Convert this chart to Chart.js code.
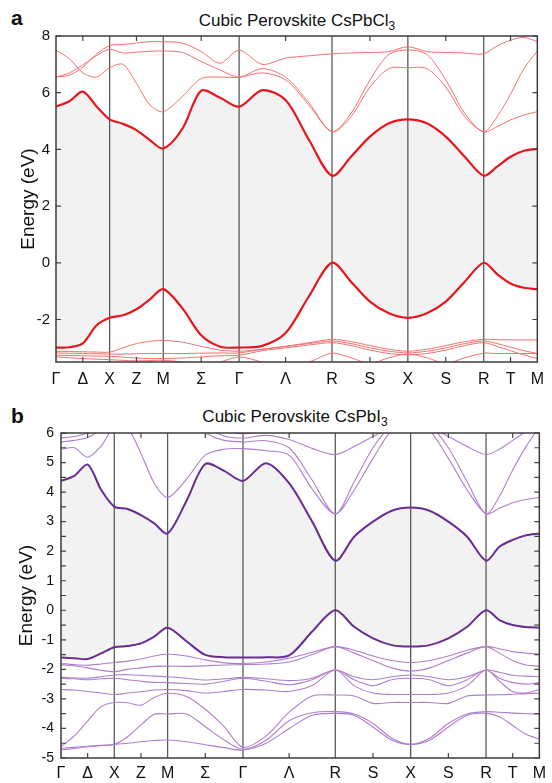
<!DOCTYPE html>
<html>
<head>
<meta charset="utf-8">
<script src="https://cdn.jsdelivr.net/npm/chart.js@4.4.0/dist/chart.umd.min.js"></script>
<style>
  body { margin: 0; background: #fff; font-family: 'Liberation Sans', Arial, sans-serif; }
  #wrap { position: relative; width: 552px; height: 783px; overflow: hidden; }
  canvas { position: absolute; left: 0; }
  .lbl { position: absolute; font-weight: bold; font-size: 21px; line-height: 24px; color: #111; }
  .ttl { position: absolute; font-size: 17px; line-height: 20px; color: #111; transform: translateX(-50%); white-space: nowrap; }
  .ttl sub { font-size: 12px; vertical-align: -4px; line-height: 0; }
</style>
</head>
<body>
<div id="wrap">
  <div class="lbl" style="left:11px; top:6px;">a</div>
  <div class="ttl" style="left:297px; top:11px;">Cubic Perovskite CsPbCl<sub>3</sub></div>
  <canvas id="chartA" width="552" height="390" style="top:0;"></canvas>
  <div class="lbl" style="left:11px; top:404px;">b</div>
  <div class="ttl" style="left:295px; top:407px;">Cubic Perovskite CsPbI<sub>3</sub></div>
  <canvas id="chartB" width="552" height="393" style="top:390px;"></canvas>
</div>
<script>
// k-path sample positions (Γ-X-M-Γ-R-X-R-M), units of 2π/a
const kPath = [0, 0.125, 0.25, 0.375, 0.5, 0.625, 0.75, 0.875, 1.0, 1.1768, 1.3536, 1.5303, 1.7071,
  1.9236, 2.1401, 2.3566, 2.5731, 2.7499, 2.9267, 3.1034, 3.2802, 3.457, 3.6338, 3.8105, 3.9873,
  4.1123, 4.2373, 4.3623, 4.4873];

// high-symmetry points and midpoints on the x axis
const symPos = [0, 0.25, 0.5, 0.75, 1.0, 1.3536, 1.7071, 2.1401, 2.5731, 2.9267, 3.2802, 3.6338, 3.9873, 4.2373, 4.4873];
const symNames = ['Γ', 'Δ', 'X', 'Z', 'M', 'Σ', 'Γ', 'Λ', 'R', 'S', 'X', 'S', 'R', 'T', 'M'];

// panel a: CsPbCl3 (eV)
const cbA = [5.51, 5.70, 6.04, 5.53, 5.06, 4.90, 4.68, 4.33, 4.03, 4.72, 6.07, 5.82, 5.51, 6.09, 5.74, 4.35, 3.07, 3.74, 4.45, 4.92, 5.06, 4.92, 4.45, 3.74, 3.07, 3.39, 3.74, 3.95, 4.02];
const vbA = [-2.99, -2.98, -2.84, -2.22, -1.94, -1.85, -1.64, -1.29, -0.93, -1.60, -2.56, -2.96, -2.99, -2.93, -2.48, -1.19, 0.00, -0.67, -1.37, -1.78, -1.94, -1.78, -1.37, -0.67, 0.00, -0.40, -0.73, -0.88, -0.93];
const c2A = [6.55, 6.70, 6.98, 7.30, 7.53, 7.40, 7.43, 7.46, 7.47, 7.42, 7.10, 6.80, 6.55, 6.85, 6.55, 5.65, 4.62, 5.27, 6.45, 7.35, 7.51, 7.35, 6.45, 5.27, 4.62, 5.15, 5.95, 6.85, 7.47];
const c3A = [6.55, 6.62, 6.90, 7.35, 7.66, 7.70, 7.75, 7.80, 7.80, 7.75, 7.45, 7.04, 7.50, 7.00, 7.22, 7.30, 7.37, 7.40, 7.42, 7.45, 7.62, 7.45, 7.42, 7.40, 7.37, 7.65, 7.85, 7.95, 7.80];
const c4A = [7.50, 7.20, 6.70, 6.55, 6.88, 7.00, 6.33, 5.57, 5.33, 5.86, 6.50, 6.55, 6.54, 6.70, 6.45, 5.57, 4.62, 5.15, 6.20, 6.85, 6.88, 6.85, 6.20, 5.15, 4.62, 4.80, 5.04, 5.21, 5.33];
const v2A = [-3.12, -3.13, -3.14, -3.15, -3.15, -3.00, -2.85, -2.77, -2.74, -2.80, -2.95, -3.08, -3.12, -3.05, -2.95, -2.82, -2.70, -2.78, -2.92, -3.05, -3.12, -3.05, -2.92, -2.78, -2.70, -2.71, -2.72, -2.72, -2.72];
const v3A = [-3.18, -3.19, -3.20, -3.21, -3.22, -3.22, -3.21, -3.20, -3.20, -3.20, -3.19, -3.18, -3.18, -3.05, -2.95, -2.85, -2.76, -2.85, -3.00, -3.12, -3.18, -3.12, -3.00, -2.85, -2.76, -2.85, -2.98, -3.10, -3.20];
const v4A = [-3.26, -3.27, -3.28, -3.29, -3.30, -3.33, -3.36, -3.38, -3.38, -3.36, -3.32, -3.28, -3.26, -3.10, -3.00, -2.90, -2.82, -2.92, -3.08, -3.20, -3.25, -3.20, -3.08, -2.92, -2.82, -2.95, -3.10, -3.25, -3.38];
const v5A = [-3.32, -3.35, -3.38, -3.40, -3.42, -3.44, -3.46, -3.45, -3.44, -3.50, -3.60, -3.50, -3.32, -3.50, -3.65, -3.50, -3.19, -3.35, -3.55, -3.35, -3.22, -3.35, -3.55, -3.35, -3.19, -3.20, -3.20, -3.20, -3.20];

// panel b: CsPbI3 (eV)
const cbB = [4.38, 4.55, 4.93, 4.09, 3.51, 3.43, 3.22, 2.94, 2.60, 3.70, 4.95, 4.72, 4.38, 4.98, 4.30, 3.00, 1.68, 2.49, 3.00, 3.37, 3.48, 3.37, 3.00, 2.49, 1.68, 2.15, 2.38, 2.54, 2.60];
const vbB = [-1.60, -1.62, -1.65, -1.46, -1.25, -1.21, -1.12, -0.89, -0.59, -1.05, -1.51, -1.59, -1.60, -1.59, -1.53, -0.72, 0.00, -0.56, -0.95, -1.18, -1.23, -1.18, -0.95, -0.56, 0.00, -0.33, -0.50, -0.57, -0.59];
const u1B = [5.45, 5.50, 5.18, 5.55, 6.20, 6.15, 5.31, 4.30, 3.82, 4.43, 5.25, 5.45, 5.47, 5.40, 5.25, 4.10, 3.26, 4.07, 5.14, 6.10, 6.50, 6.10, 5.14, 4.07, 3.26, 3.45, 3.64, 3.75, 3.82];
const u2B = [5.70, 5.75, 5.85, 6.10, 6.40, 6.50, 6.60, 6.60, 6.70, 6.50, 6.00, 5.75, 5.70, 5.74, 5.50, 4.40, 3.26, 4.35, 5.50, 6.30, 6.80, 6.30, 5.50, 4.35, 3.26, 3.85, 4.75, 5.54, 6.20];
const u3B = [5.83, 5.88, 6.00, 6.20, 6.50, 6.60, 6.60, 6.60, 6.60, 6.60, 6.20, 5.90, 5.83, 5.92, 5.78, 5.48, 5.27, 5.54, 5.88, 6.20, 6.50, 6.20, 5.88, 5.54, 5.27, 5.45, 5.75, 6.05, 6.30];
const u4B = [5.97, 6.05, 6.20, 6.40, 6.60, 6.60, 6.60, 6.60, 6.60, 6.60, 6.40, 6.10, 5.97, 6.10, 6.30, 6.50, 6.60, 6.60, 6.60, 6.60, 6.60, 6.60, 6.60, 6.60, 6.60, 6.60, 6.60, 6.60, 6.60];
const w1B = [-1.80, -1.84, -1.86, -1.82, -1.77, -1.72, -1.65, -1.55, -1.48, -1.55, -1.68, -1.78, -1.80, -1.75, -1.62, -1.42, -1.23, -1.35, -1.55, -1.70, -1.77, -1.70, -1.55, -1.35, -1.23, -1.30, -1.40, -1.45, -1.48];
const w2B = [-1.84, -1.88, -1.95, -2.03, -2.08, -2.00, -1.95, -1.90, -1.89, -1.90, -1.88, -1.85, -1.84, -1.82, -1.75, -1.50, -1.23, -1.45, -1.70, -1.95, -2.06, -1.95, -1.70, -1.45, -1.23, -1.45, -1.70, -1.85, -1.89];
const w3B = [-2.27, -2.29, -2.30, -2.25, -2.19, -2.18, -2.20, -2.23, -2.25, -2.30, -2.36, -2.32, -2.27, -2.32, -2.38, -2.30, -2.02, -2.25, -2.35, -2.25, -2.19, -2.25, -2.35, -2.25, -2.02, -2.10, -2.20, -2.23, -2.25];
const w4B = [-2.30, -2.32, -2.35, -2.32, -2.30, -2.35, -2.40, -2.44, -2.45, -2.48, -2.50, -2.40, -2.30, -2.40, -2.52, -2.35, -2.02, -2.35, -2.55, -2.35, -2.30, -2.35, -2.55, -2.35, -2.02, -2.30, -2.45, -2.50, -2.45];
const w5B = [-2.68, -2.70, -2.75, -2.80, -2.85, -2.80, -2.76, -2.70, -2.68, -2.72, -2.80, -2.75, -2.68, -2.70, -2.75, -2.55, -2.02, -2.55, -2.80, -2.85, -2.85, -2.85, -2.80, -2.55, -2.02, -2.40, -2.75, -2.80, -2.68];
const w6B = [-4.62, -4.25, -3.75, -3.26, -3.12, -3.13, -3.21, -2.95, -2.81, -2.92, -3.35, -3.94, -4.64, -4.25, -3.45, -2.90, -2.87, -2.90, -3.15, -3.12, -3.12, -3.12, -3.15, -2.90, -2.87, -2.86, -2.84, -2.82, -2.81];
const w7B = [-4.67, -4.64, -4.60, -4.57, -4.54, -4.28, -3.88, -3.52, -3.51, -3.51, -3.94, -4.39, -4.71, -4.40, -3.74, -3.47, -3.43, -3.51, -3.83, -4.33, -4.54, -4.33, -3.83, -3.51, -3.43, -3.45, -3.48, -3.50, -3.51];
const w8B = [-4.73, -4.68, -4.62, -4.58, -4.54, -4.50, -4.45, -4.41, -4.39, -4.45, -4.55, -4.65, -4.73, -4.50, -4.00, -3.55, -3.49, -3.55, -3.95, -4.40, -4.54, -4.40, -3.95, -3.55, -3.49, -3.60, -3.90, -4.20, -4.36];

// y-axis tick values
const yTicksA = [-2, 0, 2, 4, 6, 8];
const yTicksB = [-5, -4, -3, -2, -1, 0, 1, 2, 3, 4, 5, 6];
const yMinorB = [-4.5, -3.5, -2.5, -1.5, -0.5, 0.5, 1.5, 2.5, 3.5, 4.5, 5.5];

const FONT = "'Liberation Sans', Arial, sans-serif";

function pts(band) {
  return band.map((e, i) => ({ x: kPath[i], y: e }));
}

function bandSet(band, color, width, extra) {
  return Object.assign({
    data: pts(band),
    borderColor: color,
    borderWidth: width,
    pointRadius: 0,
    fill: false,
    tension: 0.3
  }, extra || {});
}

// frame, high-symmetry lines and inward ticks
function framePlugin(major, minor) {
  return {
    id: 'bandFrame',
    beforeDatasetsDraw(chart) {
      const { ctx, chartArea: a, scales: { x } } = chart;
      ctx.save();
      ctx.strokeStyle = '#5a5a5a';
      ctx.lineWidth = 1.3;
      symPos.forEach((k, i) => {
        if (i % 2 === 1 || i === 0 || i === symPos.length - 1) return;
        const px = x.getPixelForValue(k);
        ctx.beginPath();
        ctx.moveTo(px, a.top);
        ctx.lineTo(px, a.bottom);
        ctx.stroke();
      });
      ctx.restore();
    },
    afterDatasetsDraw(chart) {
      const { ctx, chartArea: a, scales: { x, y } } = chart;
      ctx.save();
      ctx.strokeStyle = '#444';
      ctx.lineWidth = 1.2;
      symPos.forEach((k, i) => {
        if (i % 2 === 0) return;
        const px = x.getPixelForValue(k);
        ctx.beginPath();
        ctx.moveTo(px, a.bottom); ctx.lineTo(px, a.bottom - 5);
        ctx.moveTo(px, a.top); ctx.lineTo(px, a.top + 5);
        ctx.stroke();
      });
      major.concat(minor).forEach(v => {
        const py = y.getPixelForValue(v);
        ctx.beginPath();
        ctx.moveTo(a.left, py); ctx.lineTo(a.left + 5, py);
        ctx.moveTo(a.right, py); ctx.lineTo(a.right - 5, py);
        ctx.stroke();
      });
      ctx.strokeStyle = '#3c3c3c';
      ctx.lineWidth = 1.5;
      ctx.strokeRect(a.left, a.top, a.right - a.left, a.bottom - a.top);
      ctx.restore();
    }
  };
}

function makeChart(id, datasets, cfg) {
  return new Chart(document.getElementById(id), {
    type: 'line',
    data: { datasets: datasets },
    options: {
      responsive: false,
      animation: false,
      layout: { padding: { top: cfg.padTop, right: cfg.padRight, left: 0, bottom: 0 } },
      plugins: {
        legend: { display: false },
        tooltip: { enabled: false },
        filler: { propagate: false, drawTime: 'beforeDatasetsDraw' }
      },
      scales: {
        x: {
          type: 'linear',
          min: 0,
          max: kPath[kPath.length - 1],
          grid: { display: false, drawTicks: false },
          border: { display: false },
          afterBuildTicks: s => { s.ticks = symPos.map(v => ({ value: v })); },
          afterFit: s => { s.height = cfg.xHeight; },
          ticks: {
            autoSkip: false,
            maxRotation: 0,
            padding: cfg.xPad,
            color: '#111',
            font: { family: FONT, size: 16 },
            callback: (v, i) => symNames[i]
          }
        },
        y: {
          min: cfg.yMin,
          max: cfg.yMax,
          grid: { display: false, drawTicks: false },
          border: { display: false },
          afterBuildTicks: s => { s.ticks = cfg.yTicks.map(v => ({ value: v })); },
          afterFit: s => { s.width = cfg.yWidth; },
          ticks: {
            padding: cfg.yPad,
            color: '#111',
            font: { family: FONT, size: cfg.yFont }
          },
          title: {
            display: true,
            text: 'Energy (eV)',
            color: '#111',
            font: { family: FONT, size: 19 },
            padding: { top: cfg.titlePad, bottom: 0 }
          }
        }
      }
    },
    plugins: [framePlugin(cfg.yTicks, cfg.yMinor)]
  });
}

window.onload = function () {
  const redThick = 'rgb(232,22,28)';
  const redThin = 'rgb(244,112,112)';
  makeChart('chartA', [
    bandSet(cbA, redThick, 2.2, { fill: '+1', backgroundColor: '#f2f2f2' }),
    bandSet(vbA, redThick, 2.2),
    bandSet(c2A, redThin, 1),
    bandSet(c3A, redThin, 1),
    bandSet(c4A, redThin, 1),
    bandSet(v2A, redThin, 1),
    bandSet(v3A, redThin, 1),
    bandSet(v4A, redThin, 1),
    bandSet(v5A, redThin, 1)
  ], {
    padTop: 36, padRight: 11, xHeight: 28, xPad: 8, yWidth: 56, yPad: 6, yFont: 15,
    yMin: -3.5, yMax: 8, yTicks: yTicksA, yMinor: [], titlePad: 17
  });

  const purThick = 'rgb(104,44,146)';
  const purThin = 'rgb(176,126,206)';
  makeChart('chartB', [
    bandSet(cbB, purThick, 2, { fill: '+1', backgroundColor: '#f2f2f2' }),
    bandSet(vbB, purThick, 2),
    bandSet(u1B, purThin, 1.1),
    bandSet(u2B, purThin, 1.1),
    bandSet(u3B, purThin, 1.1),
    bandSet(u4B, purThin, 1.1),
    bandSet(w1B, purThin, 1.1),
    bandSet(w2B, purThin, 1.1),
    bandSet(w3B, purThin, 1.1),
    bandSet(w4B, purThin, 1.1),
    bandSet(w5B, purThin, 1.1),
    bandSet(w6B, purThin, 1.1),
    bandSet(w7B, purThin, 1.1),
    bandSet(w8B, purThin, 1.1)
  ], {
    padTop: 43, padRight: 7, xHeight: 25, xPad: 6, yWidth: 61, yPad: 7, yFont: 14,
    yMin: -5, yMax: 6, yTicks: yTicksB, yMinor: yMinorB, titlePad: 15
  });
};
</script>
</body>
</html>
